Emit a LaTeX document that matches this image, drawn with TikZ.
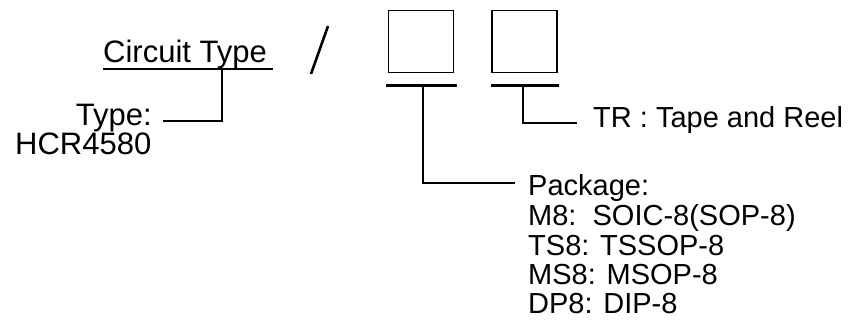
\documentclass[tikz,border=0pt]{standalone}
\usepackage{fontspec}
\setmainfont{Liberation Sans}
\usetikzlibrary{calc}

\begin{document}
\begin{tikzpicture}[x=1pt,y=-1pt,
	big/.style={inner sep=0pt,font=\fontsize{31}{31}\selectfont},
	txt/.style={inner sep=0pt,font=\fontsize{29}{29}\selectfont},
	codebox/.style={draw,line width=1.5pt,minimum width=65pt,minimum height=62pt,inner sep=0pt},
	bar/.style={line width=3pt},
	wire/.style={line width=2.6pt}]
				  \useasboundingbox (0,0) rectangle (849,331);
				  %CIRCUIT TYPE
				  \node[big,anchor=base west] (ct) at (103,63) {Circuit Type};
				  \coordinate (ctl) at (103,69.5);
				  \coordinate (ctr) at (273,69.5);
				  \draw[line width=2pt] (ctl) -- (ctr);
				  \coordinate (ctdrop) at (222,69.5);
				  \node[big,anchor=base east] (tp) at (152,126) {Type:};
				  \node[big,anchor=base west] (hcr) at (15,155) {HCR4580};
				  \coordinate (tpend) at (163,121);
				  \draw[wire] (tpend) -| (ctdrop);

				  %SLASH
				  \coordinate (sla) at (311,74);
				  \coordinate (slb) at (328,26);
				  \draw[wire] (sla) -- (slb);

				  %BOXES
				  \node[codebox] (b1) at (421,41.5) {};
				  \node[codebox] (b2) at (524.5,41.5) {};
				  \coordinate (u1l) at (386,86);
				  \coordinate (u1r) at (457,86);
				  \coordinate (u2l) at (491,86);
				  \coordinate (u2r) at (559,86);
				  \draw[bar] (u1l) -- (u1r);
				  \draw[bar] (u2l) -- (u2r);
				  \coordinate (s1) at (423,86);
				  \coordinate (s2) at (523,86);

				  %TR
				  \node[txt,anchor=base west] (tr) at (593,128) {TR : Tape and Reel};
				  \coordinate (trend) at (577,123);
				  \draw[wire] (s2) |- (trend);

				  %PACKAGE
				  \node[txt,anchor=base west] (pk) at (528,196) {Package:};
				  \node[txt,anchor=base west] (m8) at (528,226) {M8:\ \ SOIC-8(SOP-8)};
				  \node[txt,anchor=base west] (ts8) at (528,255) {TS8: TSSOP-8};
				  \node[txt,anchor=base west] (ms8) at (528,284) {MS8: MSOP-8};
				  \node[txt,anchor=base west] (dp8) at (528,313) {DP8: DIP-8};
				  \coordinate (pkend) at (515,183);
				  \draw[wire] (s1) |- (pkend);
\end{tikzpicture}
\end{document}
